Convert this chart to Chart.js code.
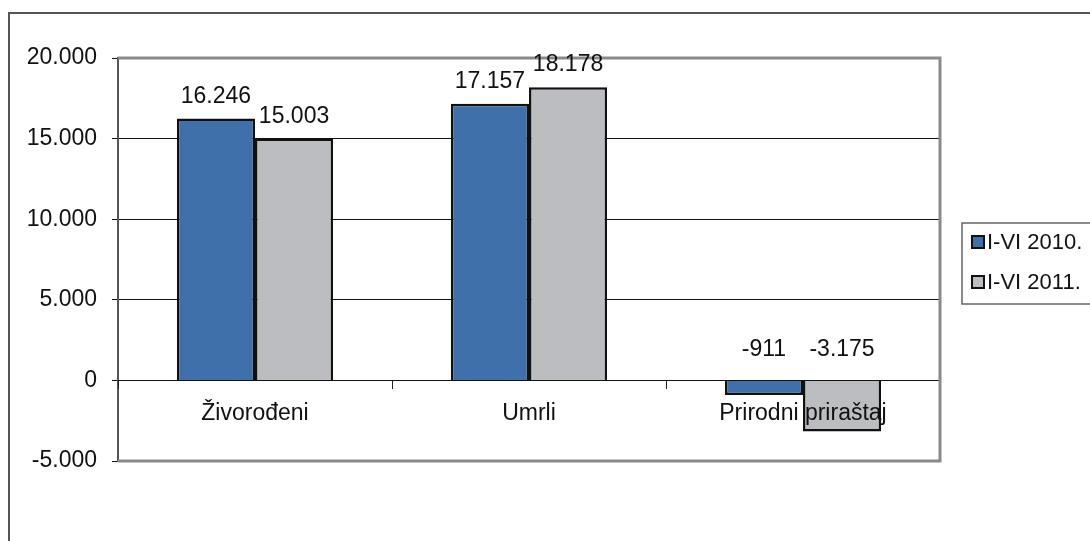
<!DOCTYPE html>
<html>
<head>
<meta charset="utf-8">
<script src="https://cdn.jsdelivr.net/npm/chart.js@4.4.1/dist/chart.umd.min.js"></script>
<style>
    html, body { margin: 0; padding: 0; background: #fff; }
    #wrap { position: relative; width: 1090px; height: 541px; }
    #frame {
        position: absolute; left: 8px; top: 12px; right: -5px; bottom: -5px;
        border-top: 2px solid #555; border-left: 2px solid #555;
        pointer-events: none;
    }
</style>
</head>
<body>
<div id="wrap">
    <canvas id="chart" width="1090" height="541"></canvas>
    <div id="frame"></div>
</div>
<script>
/* ================= DATA ================= */
const categories = ["Živorođeni", "Umrli", "Prirodni priraštaj"];
const series2010 = [16246, 17157, -911];
const series2011 = [15003, 18178, -3175];
const seriesNames = ["I-VI 2010.", "I-VI 2011."];
const yTicks = [-5000, 0, 5000, 10000, 15000, 20000];

const FONT = "'Liberation Sans', Arial, sans-serif";
const TEXT = "#111";
const FS = 23;

function fmt(v) {
    const s = Math.abs(v).toString().replace(/\B(?=(\d{3})+(?!\d))/g, ".");
    return (v < 0 ? "-" : "") + s;
}

/* ================= PLOT FRAME + LABELS + LEGEND ================= */
const extras = {
    id: "extras",
    afterDraw(chart) {
        const ctx = chart.ctx;
        const a = chart.chartArea;

        // grey frame on top / right / bottom
        ctx.save();
        ctx.strokeStyle = "#8a8a8a";
        ctx.lineWidth = 3;
        ctx.beginPath();
        ctx.moveTo(a.left, a.top);
        ctx.lineTo(a.right, a.top);
        ctx.lineTo(a.right, a.bottom);
        ctx.lineTo(a.left, a.bottom);
        ctx.stroke();
        ctx.restore();

        // value labels
        const y0 = chart.scales.y.getPixelForValue(0);
        ctx.save();
        ctx.font = FS + "px " + FONT;
        ctx.fillStyle = TEXT;
        ctx.textAlign = "center";
        ctx.textBaseline = "alphabetic";
        chart.data.datasets.forEach((ds, di) => {
            chart.getDatasetMeta(di).data.forEach((bar, i) => {
                const v = ds.data[i];
                const y = v >= 0 ? bar.y - 16 : y0 - 24;
                ctx.fillText(fmt(v), bar.x, y);
            });
        });
        ctx.restore();

        // legend
        ctx.save();
        ctx.strokeStyle = "#666";
        ctx.lineWidth = 1.5;
        ctx.strokeRect(962, 223, 140, 81);
        ctx.font = "22px " + FONT;
        ctx.textBaseline = "middle";
        ctx.textAlign = "left";
        chart.data.datasets.forEach((ds, di) => {
            const cy = 242 + di * 40;
            ctx.fillStyle = ds.backgroundColor;
            ctx.fillRect(972, cy - 6, 12, 12);
            ctx.strokeStyle = "#111";
            ctx.lineWidth = 2;
            ctx.strokeRect(972, cy - 6, 12, 12);
            ctx.fillStyle = TEXT;
            ctx.fillText(ds.label, 987, cy + 1);
        });
        ctx.restore();
    }
};

new Chart(document.getElementById("chart"), {
    type: "bar",
    data: {
        labels: categories,
        datasets: [
            {
                label: seriesNames[0],
                data: series2010,
                backgroundColor: "#3f70aa",
                borderColor: "#111",
                borderWidth: 2.5,
                categoryPercentage: 0.57,
                barPercentage: 1
            },
            {
                label: seriesNames[1],
                data: series2011,
                backgroundColor: "#bcbdc0",
                borderColor: "#111",
                borderWidth: 2.5,
                categoryPercentage: 0.57,
                barPercentage: 1
            }
        ]
    },
    options: {
        responsive: false,
        animation: false,
        layout: { padding: { top: 58, right: 150, bottom: 80, left: 0 } },
        plugins: { legend: { display: false }, tooltip: { enabled: false } },
        scales: {
            x: {
                position: { y: 0 },
                offset: true,
                grid: {
                    offset: true,
                    drawOnChartArea: false,
                    drawTicks: true,
                    tickLength: 8,
                    color: "#222",
                    lineWidth: 1,
                    z: 1
                },
                border: { display: true, color: "#111", width: 1, z: 1 },
                ticks: {
                    z: 1,
                    padding: 11,
                    color: TEXT,
                    font: { family: FONT, size: FS }
                }
            },
            y: {
                min: -5000,
                max: 20000,
                afterBuildTicks: s => { s.ticks = yTicks.map(v => ({ value: v })); },
                afterFit: s => { s.width = 118; },
                grid: {
                    color: "#111",
                    lineWidth: 1,
                    tickLength: 6,
                    drawTicks: true
                },
                border: { display: true, color: "#555", width: 2 },
                ticks: {
                    padding: 15,
                    color: TEXT,
                    font: { family: FONT, size: FS },
                    callback: v => fmt(v)
                }
            }
        }
    },
    plugins: [extras]
});
</script>
</body>
</html>
